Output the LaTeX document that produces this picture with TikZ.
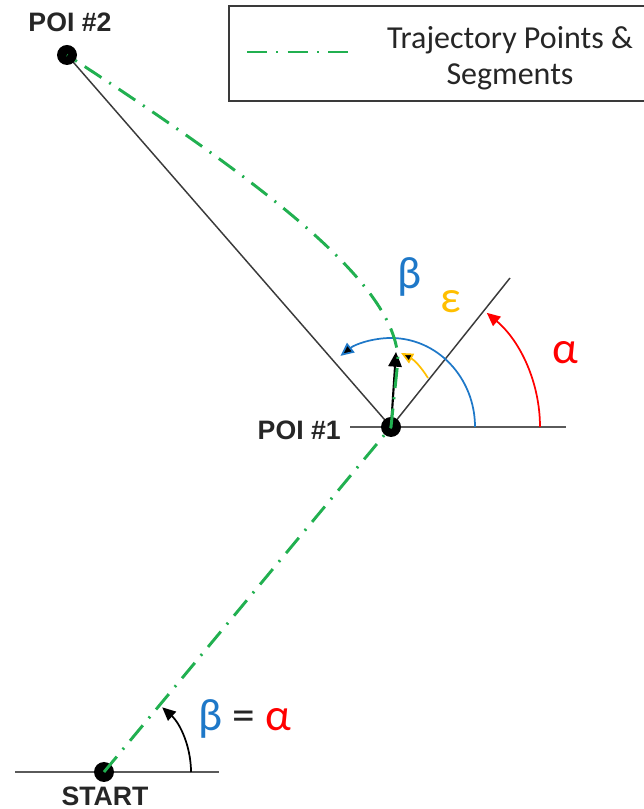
\documentclass[tikz,border=0pt]{standalone}
\usepackage{fontspec}
\setmainfont{Carlito}
\newfontfamily\labelfont{Liberation Sans}
\usetikzlibrary{arrows.meta,backgrounds}
\definecolor{trajgreen}{HTML}{21B050}
\definecolor{angblue}{HTML}{1E78C8}
\definecolor{angred}{HTML}{FF0000}
\definecolor{angorange}{HTML}{FFBF00}
\definecolor{linegray}{HTML}{3A3A3A}
\definecolor{basegray}{HTML}{5A5A5A}
\definecolor{txtgray}{HTML}{262626}
\begin{document}
\begin{tikzpicture}[x=0.75pt,y=0.75pt,
  dot/.style={circle,fill=black,minimum size=15pt,inner sep=0pt},
  poilabel/.style={font=\labelfont\bfseries\fontsize{20}{22}\selectfont,text=txtgray,inner sep=0pt},
  greek/.style={font=\fontsize{34}{36}\selectfont,inner sep=0pt},
  traj/.style={trajgreen,line width=2.2pt,dash pattern=on 15pt off 7pt on 1.5pt off 7pt},
  ray/.style={linegray,line width=1.1pt},
  base/.style={basegray,line width=1.8pt},
  tip/.style={-{Triangle[length=10pt,width=9pt]}},
  angarc/.style={line width=1.3pt},
  ]
\useasboundingbox (0,0) rectangle (643,809);

% points of interest
\node[dot] (poi2) at (67,754) {};
\node[dot] (poi1) at (391,382) {};
\node[dot] (start) at (104,37) {};

\coordinate (h1a) at (350,382);
\coordinate (h1b) at (566,382);
\coordinate (hsa) at (15,37);
\coordinate (hsb) at (219,37);
\coordinate (rayend) at (510,531);
\coordinate (head) at (396,457);

\begin{scope}[on background layer]
  \draw[base] (h1a) -- (h1b);
  \draw[base] (hsa) -- (hsb);
  \draw[ray] (poi1.center) -- (poi2.center);
  \draw[ray] (poi1.center) -- (rayend);
  \draw[ray,line width=1.6pt,-{Triangle[length=11pt,width=10pt]},black] (poi1.center) -- (head);
\end{scope}

% labels
\node[poilabel] (l2) at (70,787) {POI \#2};
\node[poilabel,anchor=east] (l1) at (341,379) {POI \#1};
\node[poilabel] (ls) at (105,13) {START};

% angle arcs
\draw[angarc,angblue,-{Triangle[length=10pt,width=9pt,fill=black]}] (475,382) arc[start angle=0,end angle=127,x radius=63pt,y radius=66.75pt];
\draw[angarc,angred,tip] (540,382) arc[start angle=0,end angle=50,radius=111.75pt];
\draw[angarc,angorange,-{Triangle[length=9pt,width=8pt,fill=black]}] (428,431) to[bend right=15] (401,456);
\draw[angarc,black,tip] (191,37) arc[start angle=0,end angle=48,radius=65.25pt];

\node[greek,text=angblue] (beta) at (410,532) {β};
\node[greek,text=angorange] (eps) at (451,507) {ε};
\node[greek,text=angred] (alpha) at (565,456) {α};
\node[greek] (eq) at (245,90) {\textcolor{angblue}{β} \textcolor{txtgray}{=} \textcolor{angred}{α}};

% trajectory
\draw[traj] (start.center) -- (poi1.center) -- (398,449) .. controls (396,519) and (290,609) .. (poi2.center);

% legend
\node[draw=linegray,line width=1.6pt,anchor=south west,minimum width=318pt,minimum height=71.25pt,inner sep=0pt] (legend) at (228,707) {};
\coordinate (lga) at (247,757);
\coordinate (lgb) at (357,757);
\draw[traj] (lga) -- (lgb);
\node[font=\fontsize{24}{27}\selectfont,align=center,text=txtgray] (legtext) at (510,751) {Trajectory Points \&\\Segments};
\end{tikzpicture}
\end{document}
